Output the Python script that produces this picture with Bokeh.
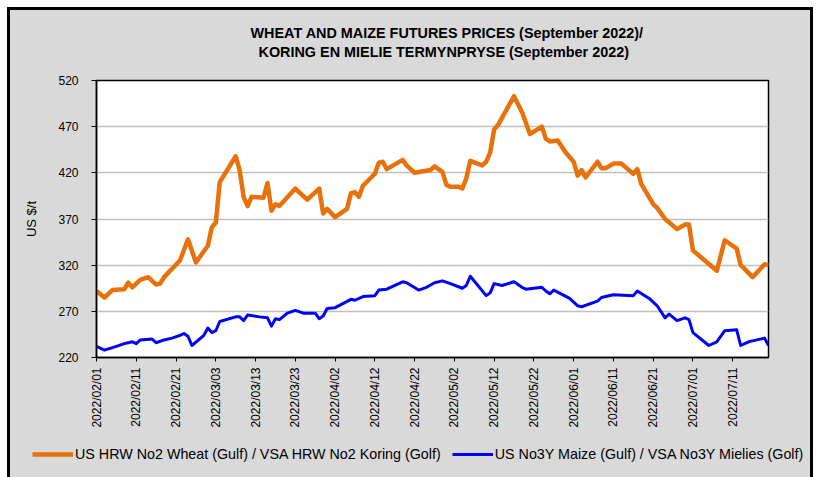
import pandas as pd
from bokeh.plotting import figure
from bokeh.layouts import column, row
from bokeh.models import (Range1d, FixedTicker, DatetimeTickFormatter, Legend,
                          LegendItem, ColumnDataSource, Title, Spacer)
from bokeh.embed import file_html
from bokeh.resources import INLINE

# ---------------- data ----------------
wheat_dates = ["2022-02-01", "2022-02-03", "2022-02-05", "2022-02-08", "2022-02-09", "2022-02-10",
               "2022-02-12", "2022-02-14", "2022-02-16", "2022-02-17", "2022-02-18", "2022-02-22",
               "2022-02-24", "2022-02-26", "2022-03-01", "2022-03-02", "2022-03-03", "2022-03-04",
               "2022-03-08", "2022-03-09", "2022-03-10", "2022-03-11", "2022-03-12", "2022-03-15",
               "2022-03-16", "2022-03-17", "2022-03-18", "2022-03-19", "2022-03-23", "2022-03-26",
               "2022-03-29", "2022-03-30", "2022-03-31", "2022-04-02", "2022-04-05", "2022-04-06",
               "2022-04-07", "2022-04-08", "2022-04-09", "2022-04-12", "2022-04-13", "2022-04-14",
               "2022-04-15", "2022-04-19", "2022-04-20", "2022-04-22", "2022-04-26", "2022-04-27",
               "2022-04-29", "2022-04-30", "2022-05-01", "2022-05-03", "2022-05-04", "2022-05-05",
               "2022-05-06", "2022-05-09", "2022-05-10", "2022-05-11", "2022-05-12", "2022-05-13",
               "2022-05-17", "2022-05-19", "2022-05-21", "2022-05-24", "2022-05-25", "2022-05-26",
               "2022-05-28", "2022-05-30", "2022-06-01", "2022-06-02", "2022-06-03", "2022-06-04",
               "2022-06-07", "2022-06-08", "2022-06-09", "2022-06-11", "2022-06-13", "2022-06-16",
               "2022-06-17", "2022-06-18", "2022-06-21", "2022-06-22", "2022-06-24", "2022-06-27",
               "2022-06-29", "2022-06-30", "2022-07-01", "2022-07-07", "2022-07-09", "2022-07-12",
               "2022-07-13", "2022-07-14", "2022-07-16", "2022-07-19", "2022-07-20"]
wheat_usd_t = [292, 285, 293, 294, 301, 296,
               304, 307, 299, 300, 307, 325,
               348, 323, 341, 361, 366, 410,
               438, 423, 394, 384, 394, 393,
               409, 379, 386, 384, 403, 391,
               403, 376, 381, 372, 381, 398,
               399, 394, 406, 419, 431, 432,
               424, 434, 428, 420, 423, 427,
               421, 407, 405, 405, 403, 414,
               433, 428, 432, 442, 467, 472,
               503, 486, 462, 470, 457, 454,
               455, 442, 432, 417, 423, 415,
               432, 425, 425, 430, 430, 419,
               424, 408, 386, 382, 370, 359,
               364, 364, 336, 314, 347, 338,
               320, 316, 307, 321, 320]

maize_dates = ["2022-02-01", "2022-02-03", "2022-02-06", "2022-02-08", "2022-02-09", "2022-02-10",
               "2022-02-11", "2022-02-12", "2022-02-15", "2022-02-16", "2022-02-18", "2022-02-20",
               "2022-02-22", "2022-02-23", "2022-02-24", "2022-02-25", "2022-02-28", "2022-03-01",
               "2022-03-02", "2022-03-03", "2022-03-04", "2022-03-08", "2022-03-09", "2022-03-10",
               "2022-03-11", "2022-03-14", "2022-03-16", "2022-03-17", "2022-03-18", "2022-03-19",
               "2022-03-21", "2022-03-23", "2022-03-25", "2022-03-28", "2022-03-29", "2022-03-30",
               "2022-03-31", "2022-04-02", "2022-04-06", "2022-04-07", "2022-04-09", "2022-04-12",
               "2022-04-13", "2022-04-15", "2022-04-18", "2022-04-19", "2022-04-20", "2022-04-23",
               "2022-04-25", "2022-04-27", "2022-04-29", "2022-05-01", "2022-05-04", "2022-05-05",
               "2022-05-06", "2022-05-10", "2022-05-11", "2022-05-12", "2022-05-14", "2022-05-17",
               "2022-05-19", "2022-05-20", "2022-05-24", "2022-05-25", "2022-05-26", "2022-05-27",
               "2022-05-31", "2022-06-02", "2022-06-03", "2022-06-07", "2022-06-08", "2022-06-11",
               "2022-06-16", "2022-06-17", "2022-06-20", "2022-06-22", "2022-06-24", "2022-06-25",
               "2022-06-27", "2022-06-29", "2022-06-30", "2022-07-01", "2022-07-05", "2022-07-07",
               "2022-07-09", "2022-07-12", "2022-07-13", "2022-07-15", "2022-07-16", "2022-07-19",
               "2022-07-20"]
maize_usd_t = [232, 228, 232, 235, 236, 237,
               235, 239, 240, 236, 239, 241,
               244, 246, 243, 233, 244, 252,
               247, 249, 259, 264, 264, 260,
               266, 264, 263, 254, 262, 261,
               268, 271, 268, 268, 262, 265,
               273, 274, 283, 282, 286, 287,
               293, 294, 300, 302, 301, 293,
               296, 301, 303, 300, 295, 298,
               308, 287, 290, 300, 298, 302,
               296, 294, 296, 292, 289, 293,
               284, 276, 275, 281, 285, 288,
               287, 292, 284, 276, 263, 267,
               260, 263, 261, 247, 233, 237,
               249, 250, 233, 237, 238, 241,
               233]

x_tick_labels = ["2022/02/01", "2022/02/11", "2022/02/21", "2022/03/03", "2022/03/13",
                 "2022/03/23", "2022/04/02", "2022/04/12", "2022/04/22", "2022/05/02",
                 "2022/05/12", "2022/05/22", "2022/06/01", "2022/06/11", "2022/06/21",
                 "2022/07/01", "2022/07/11"]
y_ticks = [220, 270, 320, 370, 420, 470, 520]
x_start, x_end = "2022-02-01", "2022-07-20"

series_names = ["US HRW No2 Wheat (Gulf) / VSA HRW No2 Koring (Golf)",
                "US No3Y Maize (Gulf) / VSA No3Y Mielies (Golf)"]
title_line1 = "WHEAT AND MAIZE FUTURES PRICES (September 2022)/"
title_line2 = "KORING EN MIELIE TERMYNPRYSE  (September 2022)"

WHEAT_COLOR, MAIZE_COLOR = "#E8710C", "#0000FF"
BG = "#d9d9d9"
FONT = "Liberation Sans"
NB = "\u00a0"


def ms(s):
    return pd.Timestamp(s.replace("/", "-")).timestamp() * 1000.0


wsrc = ColumnDataSource(dict(x=pd.to_datetime(wheat_dates), y=wheat_usd_t))
msrc = ColumnDataSource(dict(x=pd.to_datetime(maize_dates), y=maize_usd_t))

# ---------------- main chart ----------------
p = figure(width=800, height=425, x_axis_type="datetime",
           x_range=Range1d(ms(x_start), ms(x_end)), y_range=Range1d(220, 520),
           output_backend="svg", toolbar_location=None,
           min_border_left=86, min_border_right=42, min_border_top=70, min_border_bottom=78,
           border_fill_color=BG, background_fill_color="white",
           outline_line_color="black", outline_line_width=1.5)
p.frame_align = False

p.title = Title(text=title_line1 + "\n" + NB + NB + title_line2 + "\n" + NB,
                align="left", offset=154, text_font=FONT, text_font_size="14.4px",
                text_font_style="bold", text_color="black", text_line_height=1.18,
                standoff=4)

p.line("x", "y", source=wsrc, line_color=WHEAT_COLOR, line_width=4.5, line_join="round")
p.line("x", "y", source=msrc, line_color=MAIZE_COLOR, line_width=3, line_join="round")

p.xaxis.ticker = FixedTicker(ticks=[ms(t) for t in x_tick_labels])
fmt = "%Y/%m/%d"
p.xaxis.formatter = DatetimeTickFormatter(microseconds=fmt, milliseconds=fmt, seconds=fmt,
                                          minsec=fmt, minutes=fmt, hourmin=fmt, hours=fmt,
                                          days=fmt, months=fmt, years=fmt)
p.xaxis.major_label_orientation = 1.5707963
p.yaxis.ticker = FixedTicker(ticks=y_ticks)
p.yaxis.axis_label = "US $/t"

for ax in (p.xaxis[0], p.yaxis[0]):
    ax.axis_line_color = "black"
    ax.axis_line_width = 1.5
    ax.major_tick_line_color = "black"
    ax.major_tick_in = 0
    ax.minor_tick_line_color = None
    ax.major_label_text_font = FONT
    ax.major_label_text_font_size = "12px"
    ax.major_label_text_color = "black"
p.xaxis.major_tick_out = 4
p.yaxis.major_tick_out = 5
p.yaxis.major_label_standoff = 13
p.xaxis.major_label_standoff = 6
p.yaxis.axis_label_text_font = FONT
p.yaxis.axis_label_text_font_size = "13px"
p.yaxis.axis_label_text_font_style = "normal"
p.yaxis.axis_label_text_color = "black"
p.yaxis.axis_label_standoff = 16

p.xgrid.grid_line_color = None
p.ygrid.grid_line_color = "#c0c0c0"
p.ygrid.grid_line_width = 1.5

# ---------------- legend strip (same data, lines kept out of its view) ----------------
lg = figure(width=800, height=42, x_range=p.x_range, y_range=Range1d(0, 1),
            output_backend="svg", toolbar_location=None,
            x_axis_location=None, y_axis_location=None,
            min_border=0, border_fill_color=BG, background_fill_color=BG,
            outline_line_color=None)
lg.frame_align = False
lg.grid.grid_line_color = None
lr1 = lg.line("x", "y", source=wsrc, line_color=WHEAT_COLOR, line_width=4.5)
lr2 = lg.line("x", "y", source=msrc, line_color=MAIZE_COLOR, line_width=3)
legend = Legend(items=[LegendItem(label=series_names[0], renderers=[lr1]),
                       LegendItem(label=series_names[1], renderers=[lr2])],
                location=(22, 15), orientation="horizontal", padding=0, margin=0,
                spacing=11, glyph_width=41, glyph_height=16, label_standoff=2,
                label_text_font=FONT, label_text_font_size="14.3px", label_text_color="black",
                border_line_alpha=0, background_fill_alpha=0)
lg.add_layout(legend, "center")

chart = column(p, lg, spacing=0)
chart.styles = {"outline": "3px solid black", "background-color": BG}
page = column(Spacer(width=810, height=10), row(Spacer(width=10, height=467), chart))

open("out.html", "w").write(file_html(page, INLINE))
